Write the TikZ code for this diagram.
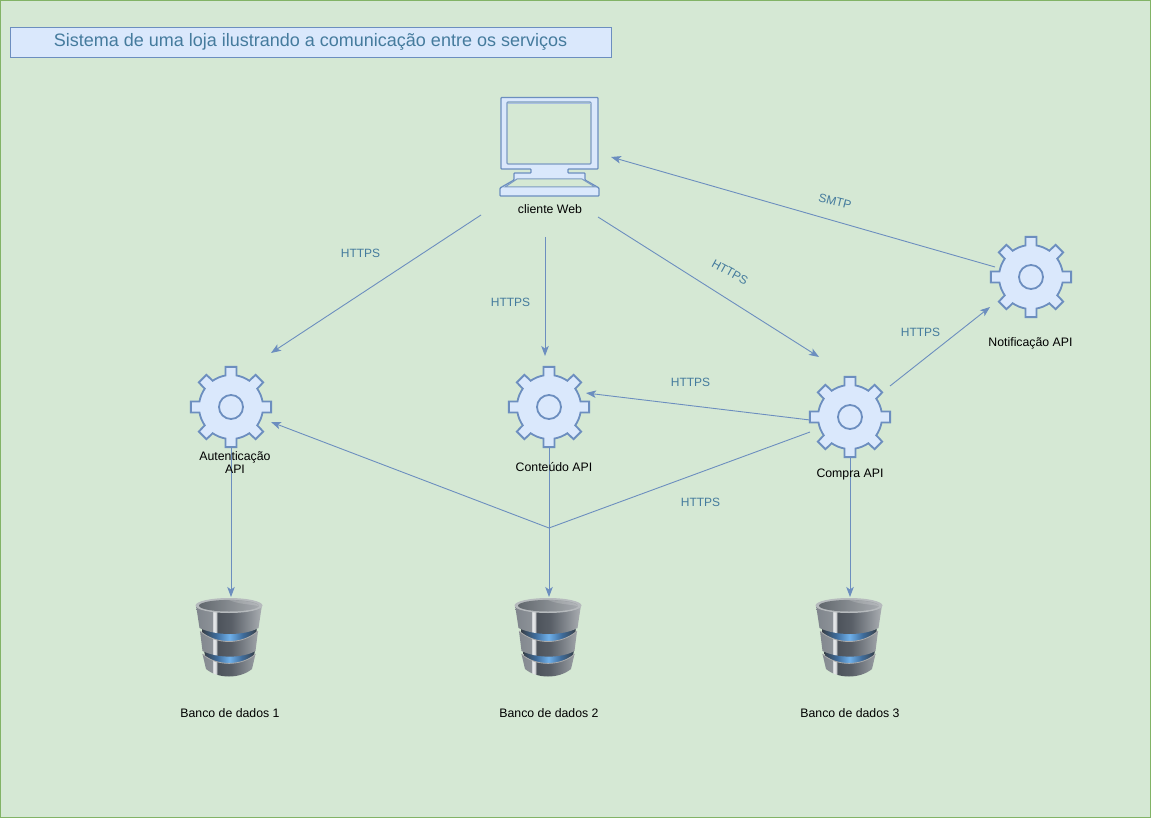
\documentclass[tikz,border=0pt]{standalone}
\usepackage{fontspec}
\setmainfont{Liberation Sans}
\usetikzlibrary{arrows.meta}
\definecolor{pagebg}{HTML}{D5E8D4}
\definecolor{pageln}{HTML}{82B366}
\definecolor{blfill}{HTML}{DAE8FC}
\definecolor{blline}{HTML}{6C8EBF}
\definecolor{lbl}{HTML}{457B9D}
\definecolor{dbA}{HTML}{7F858C}
\definecolor{dbB}{HTML}{8C9197}
\definecolor{dbC}{HTML}{E8EAEC}
\definecolor{dbD}{HTML}{D8DADC}
\definecolor{dbE}{HTML}{4C525A}
\definecolor{dbF}{HTML}{5A6068}
\definecolor{dbG}{HTML}{8A8F95}
\definecolor{dbH}{HTML}{ABAFB3}
\definecolor{glA}{HTML}{384048}
\definecolor{glB}{HTML}{3E6C9C}
\definecolor{glC}{HTML}{6FB0EA}
\definecolor{hoA}{HTML}{62686E}
\definecolor{hoB}{HTML}{858A8F}
\definecolor{hoC}{HTML}{A6AAAE}
\definecolor{rimc}{HTML}{B6BABD}
\pgfdeclarehorizontalshading{dbbody}{100bp}{
 color(0bp)=(dbA);
 color(25bp)=(dbA);
 color(37.4bp)=(dbB);
 color(38bp)=(dbC);
 color(40.4bp)=(dbD);
 color(41bp)=(dbE);
 color(52bp)=(dbF);
 color(66bp)=(dbG);
 color(75bp)=(dbH);
 color(100bp)=(dbH)}
\pgfdeclarehorizontalshading{dbglow}{100bp}{
 color(0bp)=(glA);
 color(25bp)=(glA);
 color(38bp)=(glB);
 color(50bp)=(glC);
 color(62bp)=(glB);
 color(75bp)=(glA);
 color(100bp)=(glA)}
\pgfdeclarehorizontalshading{dbhole}{100bp}{
 color(0bp)=(hoA);
 color(25bp)=(hoA);
 color(50bp)=(hoB);
 color(75bp)=(hoC);
 color(100bp)=(hoC)}
\tikzset{
 flow/.style={draw=blline,line width=.9pt,-{Stealth[length=10pt,width=7.5pt,inset=2.5pt]}},
 lab/.style={font=\fontsize{12.3}{14}\selectfont,text=black,align=center,inner sep=0pt},
 proto/.style={font=\fontsize{12}{14}\selectfont,text=lbl,inner sep=0pt},
 tit/.style={draw=blline,fill=blfill,line width=.9pt,minimum width=601pt,minimum height=30pt,inner sep=0pt,font=\fontsize{18}{20}\selectfont,text=lbl},
 gearcolor/.style={draw=blline,fill=blfill,line width=1.8pt,line join=miter},
 gearpic/.pic={
  \path[gearcolor] (-10:32)
   \foreach \a in {0,45,...,315}{
    -- ({\a-10}:32) -- ({\a-7.7}:40.5) -- ({\a+7.7}:40.5) -- ({\a+10}:32)
    -- ({\a+16}:32) -- ({\a+22.5}:32) -- ({\a+29}:32)
   } -- cycle;
  \draw[gearcolor] (0,0) circle (12);
 },
 dbpic/.pic={
  \shade[shading=dbglow,shading angle=0] (-28,28) .. controls (-12,37) and (12,37) .. (27,28) -- (26,40) .. controls (10,48) and (-10,48) .. (-27,40) -- cycle;
  \shade[shading=dbglow,shading angle=0] (-26,52) .. controls (-12,60) and (12,60) .. (25,52) -- (23,64) .. controls (10,70) and (-10,70) .. (-24,64) -- cycle;
  \shade[shading=dbbody,shading angle=0]
    (-34,7) -- (-30.5,30) .. controls (-14,38) and (14,38) .. (28.5,30) -- (32,7) -- cycle
    (-30,33) -- (-27.5,53) .. controls (-12,60.5) and (12,60.5) .. (25.5,53) -- (28,33) .. controls (12,47) and (-14,47) .. (-30,33) -- cycle
    (-27.5,56) -- (-24,71) .. controls (-12,81) and (10,81) .. (22,71) -- (25.5,56) .. controls (12,68.5) and (-14,68.5) .. (-27.5,56) -- cycle;
  \draw[gray!65,line width=.8pt] (-30,33) .. controls (-14,47) and (12,47) .. (28,33);
  \draw[gray!65,line width=.8pt] (-27.5,56) .. controls (-14,68.5) and (12,68.5) .. (25.5,56);
  \fill[rimc] (-1,7.5) ellipse (33.5 and 7.5);
  \shade[shading=dbhole,shading angle=0] (-1,7.7) ellipse (30 and 5.8);
  \fill[white,opacity=.16] (-1,2) .. controls (10,2) and (27,4) .. (29,8) .. controls (18,6) and (8,6) .. (-1,2) -- cycle;
 }
}
\begin{document}
\begin{tikzpicture}[x=1pt,y=-1pt]
\useasboundingbox (0,0) rectangle (1151,818);
\fill[pagebg,draw=pageln,line width=1.2pt] (.6,.6) rectangle (1150.4,817.4);
\node[tit] (title) at (310.5,42) {\raisebox{-3pt}{Sistema de uma loja ilustrando a comunicação entre os serviços}};

% computer
\path[draw=blline,fill=blfill,line width=1.3pt,line join=round,rounded corners=.8pt]
 (501,97.5) -- (598,97.5) -- (598,169) -- (568,169) -- (568,173) -- (585,173) -- (585,180) -- (599,188) -- (599,196) -- (500,196) -- (500,188) -- (514,180) -- (514,173) -- (531,173) -- (531,169) -- (501,169) -- cycle;
\draw[draw=blline!85!pagebg,fill=pagebg,line width=1.1pt,rounded corners=1pt] (507,102) rectangle (591,164);
\draw[draw=blline!45!blfill,line width=1pt] (507.5,103.2) -- (590.5,103.2);
\draw[draw=blline!85!pagebg,fill=pagebg,line width=1pt] (517,179) -- (582,179) -- (595,187) -- (505,187) -- cycle;
\coordinate (webA) at (481,215);
\coordinate (webB) at (545,237);
\coordinate (webC) at (598,217);
\coordinate (webD) at (611,157);
\node[lab] (webl) at (550,209) {cliente Web};

% gears
\pic at (231,407) {gearpic};
\pic at (549,407) {gearpic};
\pic at (850,417) {gearpic};
\pic at (1031,277) {gearpic};

% databases
\pic at (230,598) {dbpic};
\pic at (549,598) {dbpic};
\pic at (850,598) {dbpic};

\node[lab] (db1l) at (230,713) {Banco de dados 1};
\node[lab] (db2l) at (549,713) {Banco de dados 2};
\node[lab] (db3l) at (850,713) {Banco de dados 3};

% named ends
\coordinate (authIn) at (271,353);
\coordinate (authIn2) at (271,422);
\coordinate (authOut) at (231,447);
\coordinate (contIn) at (545,356);
\coordinate (contIn2) at (586,393);
\coordinate (contOut) at (549,447);
\coordinate (compIn) at (819,357);
\coordinate (compA) at (810,420);
\coordinate (compB) at (810,432);
\coordinate (compC) at (890,386);
\coordinate (compOut) at (850,457);
\coordinate (notIn) at (990,307);
\coordinate (notOut) at (995,267);
\coordinate (db1) at (231,597);
\coordinate (db2) at (549,597);
\coordinate (db3) at (850,597);
\coordinate (bend) at (549,528);

\draw[flow] (webA) -- (authIn);
\draw[flow] (webB) -- (contIn);
\draw[flow] (webC) -- (compIn);
\draw[flow] (notOut) -- (webD);
\draw[flow] (compC) -- (notIn);
\draw[flow] (compA) -- (contIn2);
\draw[flow] (compB) -- (bend) -- (authIn2);
\draw[flow] (authOut) -- (db1);
\draw[flow] (contOut) -- (db2);
\draw[flow] (compOut) -- (db3);

\node[lab] (authl) at (235,462.5) {Autenticação\\[-.5pt]API};
\node[lab] (contl) at (554,467.5) {Conteúdo API};
\node[lab] (compl) at (850,474) {Compra API};
\node[lab] (notl) at (1030.5,343) {Notificação API};

\node[proto] (p1) at (360.5,253.5) {HTTPS};
\node[proto] (p2) at (510.5,302.5) {HTTPS};
\node[proto,rotate=-29] (p3) at (730,272) {HTTPS};
\node[proto,rotate=-14] (p4) at (835,201.5) {SMTP};
\node[proto] (p5) at (920.5,332.5) {HTTPS};
\node[proto] (p6) at (690.5,382.5) {HTTPS};
\node[proto] (p7) at (700.5,502.5) {HTTPS};
\end{tikzpicture}
\end{document}
